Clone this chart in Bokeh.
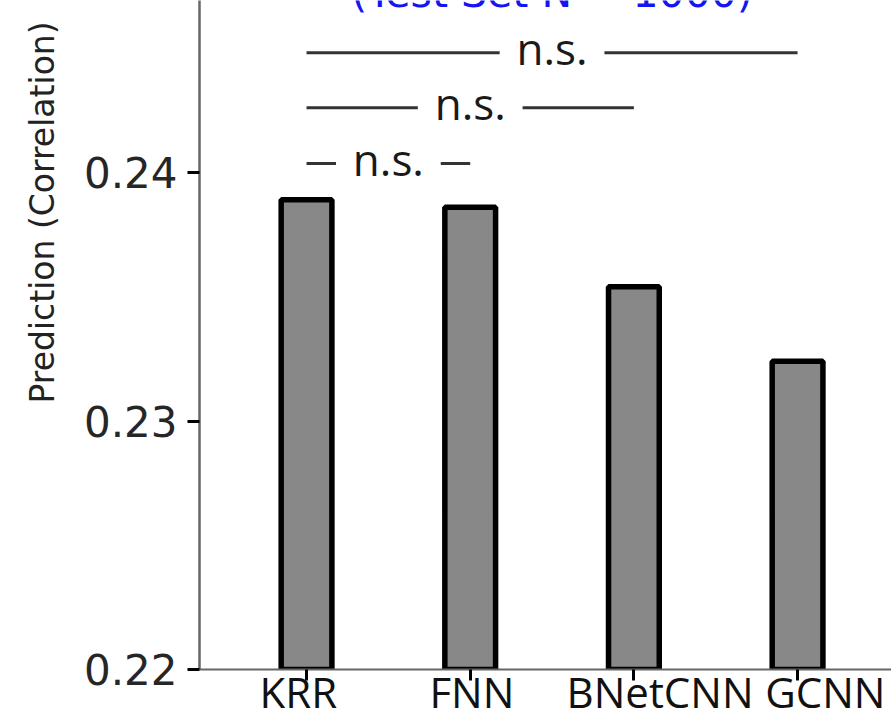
from bokeh.plotting import figure
from bokeh.models import Range1d, FixedTicker, LinearAxis, Title
from bokeh.core.properties import value
from bokeh.embed import file_html
from bokeh.resources import INLINE

# ---- data ----
categories = ["KRR", "FNN", "BNetCNN", "GCNN"]
correlation = [0.2389, 0.2386, 0.2354, 0.2324]
y_ticks = [0.22, 0.23, 0.24]
y_tick_labels = ["0.22", "0.23", "0.24"]
comparisons = [("KRR", "FNN"), ("KRR", "BNetCNN"), ("KRR", "GCNN")]
comparison_labels = ["n.s.", "n.s.", "n.s."]
title_text = "(Test Set N = 1000)"
y_label = "Prediction (Correlation)"

# ---- layout / style ----
W, H = 891, 724
y0 = 0.22
px_per_unit = 24850.0
frame_h = 669
y_end = y0 + frame_h / px_per_unit
bracket_levels = [0.24036, 0.24261, 0.24482]
gap = 0.32
label_nudge = [-0.05, 0.01, 0.16, 0.17]   # category labels sit slightly off their ticks

idx = [i + 1 for i in range(len(categories))]

p = figure(width=W, height=H, output_backend="svg", toolbar_location=None,
           x_range=Range1d(0.346, 4.574), y_range=Range1d(y0, y_end),
           min_border_left=199, min_border_right=0, min_border_top=0,
           min_border_bottom=55)
p.outline_line_color = None
p.xgrid.visible = False
p.ygrid.visible = False
p.background_fill_color = "white"
p.border_fill_color = "white"

p.vbar(x=idx, top=correlation, bottom=y0, width=0.31,
       fill_color="#888888", line_color="black", line_width=5.5)

# significance brackets
for (a, b), lab, lev in zip(comparisons, comparison_labels, bracket_levels):
    xa = idx[categories.index(a)]
    xb = idx[categories.index(b)]
    mid = (xa + xb) / 2
    p.segment(x0=[xa, mid + gap], y0=[lev, lev], x1=[mid - gap, xb], y1=[lev, lev],
              line_color="#333333", line_width=3)
    p.text(x=[mid], y=[lev], text=[lab], text_font=value("Open Sans"),
           text_font_size="44px", text_color="#1a1a1a", text_align="center",
           text_baseline="alphabetic", y_offset=-5)

# title, cut off at the top edge as in the source image
p.text(x=[sum(idx) / len(idx)], y=[y_end], text=[title_text],
       text_font=value("DejaVu Sans"), text_font_size="41px",
       text_color="#1414f5", text_align="center", text_baseline="alphabetic",
       y_offset=-8)

# x axis: line + ticks
xa_ = p.xaxis[0]
xa_.ticker = FixedTicker(ticks=idx)
xa_.major_label_overrides = {i: "" for i in idx}
xa_.major_label_text_font_size = "0px"
xa_.major_label_standoff = 0
xa_.axis_line_color = "#666666"
xa_.axis_line_width = 2
xa_.major_tick_line_color = "black"
xa_.major_tick_line_width = 3
xa_.major_tick_out = 11
xa_.major_tick_in = 0
xa_.minor_tick_line_color = None

# x axis: category labels
label_pos = [i + n for i, n in zip(idx, label_nudge)]
lab_axis = LinearAxis(ticker=FixedTicker(ticks=label_pos),
                      major_label_overrides={lp: c for lp, c in zip(label_pos, categories)},
                      major_label_text_font="Open Sans",
                      major_label_text_font_size="42px",
                      major_label_text_color="#111111",
                      major_label_standoff=-18,
                      axis_line_color=None, major_tick_line_color=None,
                      minor_tick_line_color=None, major_tick_out=0, major_tick_in=0)
p.add_layout(lab_axis, "below")

# y axis
ya = p.yaxis[0]
ya.ticker = FixedTicker(ticks=y_ticks)
ya.major_label_overrides = {t: l for t, l in zip(y_ticks, y_tick_labels)}
ya.major_label_text_font = "DejaVu Sans"
ya.major_label_text_font_size = "42px"
ya.major_label_text_color = "#262626"
ya.major_label_standoff = 10
ya.axis_line_color = "#666666"
ya.axis_line_width = 2.5
ya.major_tick_line_color = "black"
ya.major_tick_line_width = 3
ya.major_tick_out = 12
ya.major_tick_in = 0
ya.minor_tick_line_color = None

p.add_layout(Title(text=y_label, align="left", offset=266, standoff=38,
                   text_font="DejaVu Sans", text_font_size="33px",
                   text_font_style="normal", text_color="#222222"), "left")

open("out.html", "w").write(file_html(p, INLINE))
